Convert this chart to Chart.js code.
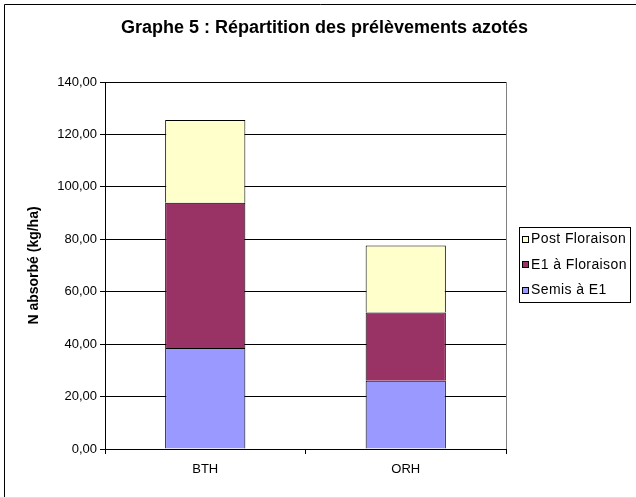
<!DOCTYPE html>
<html>
<head>
<meta charset="utf-8">
<script src="https://cdn.jsdelivr.net/npm/chart.js@4.4.1/dist/chart.umd.min.js"></script>
<style>
  html, body { margin: 0; padding: 0; background: #fff; }
  #wrap { position: relative; width: 636px; height: 498px; }
</style>
</head>
<body>
<div id="wrap"><canvas id="chart" width="636" height="498"></canvas></div>
<script>
// Data
const categories = ['BTH', 'ORH'];
const semisE1 = [38.5, 26.0];
const e1Floraison = [55.4, 26.1];
const postFloraison = [31.6, 25.5];
const yTicks = [0, 20, 40, 60, 80, 100, 120, 140];

const FONT = 'Arial, "Liberation Sans", sans-serif';

// Frame, plot border and a boxed legend drawn by hand (Excel look)
const excelBits = {
    id: 'excelBits',
    afterDraw(chart) {
        const ctx = chart.ctx;
        const area = chart.chartArea;
        ctx.save();
        // outer frame (left and top visible)
        ctx.strokeStyle = '#000';
        ctx.lineWidth = 1;
        ctx.beginPath();
        ctx.moveTo(4.5, 498);
        ctx.lineTo(4.5, 4.5);
        ctx.lineTo(636, 4.5);
        ctx.stroke();
        ctx.strokeStyle = '#e0e0e0';
        ctx.beginPath();
        ctx.moveTo(0, 497.5);
        ctx.lineTo(636, 497.5);
        ctx.stroke();

        // right border of the plot area
        ctx.strokeStyle = '#808080';
        ctx.beginPath();
        ctx.moveTo(Math.round(area.right) + 0.5, area.top);
        ctx.lineTo(Math.round(area.right) + 0.5, area.bottom);
        ctx.stroke();

        // legend box
        const bx = 519.5, by = 227.5, bw = 111, bh = 75;
        ctx.strokeStyle = '#000';
        ctx.fillStyle = '#fff';
        ctx.fillRect(bx, by, bw, bh);
        ctx.strokeRect(bx, by, bw, bh);

        const order = [2, 1, 0];
        ctx.font = '14px ' + FONT;
        ctx.letterSpacing = '0.4px';
        ctx.textBaseline = 'middle';
        ctx.textAlign = 'left';
        order.forEach((di, row) => {
            const ds = chart.data.datasets[di];
            const cy = 239.5 + row * 25.5;
            ctx.fillStyle = ds.backgroundColor;
            ctx.fillRect(522.5, Math.round(cy) - 3.5, 6, 6);
            ctx.strokeStyle = '#000';
            ctx.strokeRect(522.5, Math.round(cy) - 3.5, 6, 6);
            ctx.fillStyle = '#000';
            ctx.fillText(ds.label, 531, cy);
        });
        ctx.restore();
    }
};

const barStyle = {
    borderColor: '#000',
    borderWidth: { top: 1, left: 1, right: 1, bottom: 0 },
    borderSkipped: false,
    barPercentage: 0.8,
    categoryPercentage: 0.5
};

new Chart(document.getElementById('chart'), {
    type: 'bar',
    data: {
        labels: categories,
        datasets: [
            Object.assign({ label: 'Semis à E1', data: semisE1, backgroundColor: '#9999FF' }, barStyle),
            Object.assign({ label: 'E1 à Floraison', data: e1Floraison, backgroundColor: '#993366' }, barStyle),
            Object.assign({ label: 'Post Floraison', data: postFloraison, backgroundColor: '#FFFFCC' }, barStyle)
        ]
    },
    options: {
        responsive: false,
        animation: false,
        layout: { padding: { left: 13, right: 0, top: 0, bottom: 0 } },
        plugins: {
            legend: { display: false },
            tooltip: { enabled: false },
            title: {
                display: true,
                text: 'Graphe 5 : Répartition des prélèvements azotés',
                color: '#000',
                font: { family: FONT, size: 18, weight: 'bold', lineHeight: 1.2 },
                padding: { top: 17, bottom: 43.4 }
            }
        },
        scales: {
            x: {
                stacked: true,
                grid: {
                    offset: true,
                    drawOnChartArea: false,
                    drawTicks: true,
                    tickLength: 5,
                    color: '#000'
                },
                border: { color: '#000', width: 1 },
                ticks: { color: '#000', font: { family: FONT, size: 13 }, padding: 8 },
                afterFit(scale) { scale.height = 49; }
            },
            y: {
                stacked: true,
                min: 0,
                max: 140,
                afterBuildTicks(scale) { scale.ticks = yTicks.map(v => ({ value: v })); },
                grid: { color: '#000', lineWidth: 1, tickLength: 5 },
                border: { color: '#000', width: 1 },
                ticks: {
                    color: '#000',
                    font: { family: FONT, size: 13 },
                    padding: 3,
                    callback: v => v.toFixed(2).replace('.', ',')
                },
                title: {
                    display: true,
                    text: 'N absorbé (kg/ha)',
                    color: '#000',
                    font: { family: FONT, size: 14, weight: 'bold' },
                    padding: { top: 13, bottom: 0 }
                },
                afterFit(scale) { scale.width = 92; }
            },
            // empty right-hand axis that reserves room for the legend
            space: {
                position: 'right',
                display: true,
                grid: { display: false },
                border: { display: false },
                ticks: { display: false },
                afterFit(scale) { scale.width = 130; }
            }
        }
    },
    plugins: [excelBits]
});
</script>
</body>
</html>
